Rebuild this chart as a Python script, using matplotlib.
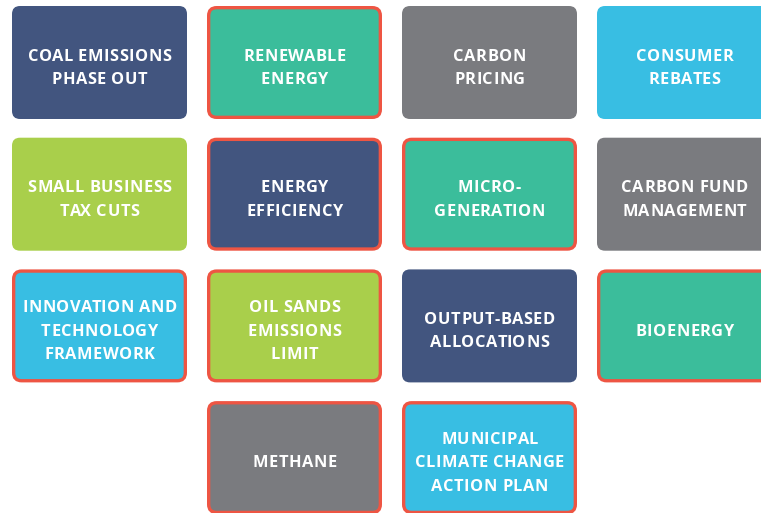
import matplotlib
matplotlib.use("Agg")
import matplotlib.pyplot as plt
from matplotlib.patches import FancyBboxPatch
from matplotlib.font_manager import FontProperties

labels = [
    "COAL EMISSIONS\nPHASE OUT", "RENEWABLE\nENERGY", "CARBON\nPRICING", "CONSUMER\nREBATES",
    "SMALL BUSINESS\nTAX CUTS", "ENERGY\nEFFICIENCY", "MICRO-\nGENERATION", "CARBON FUND\nMANAGEMENT",
    "INNOVATION AND\nTECHNOLOGY\nFRAMEWORK", "OIL SANDS\nEMISSIONS\nLIMIT", "OUTPUT-BASED\nALLOCATIONS", "BIOENERGY",
    "METHANE", "MUNICIPAL\nCLIMATE CHANGE\nACTION PLAN",
]
rows = [0, 0, 0, 0, 1, 1, 1, 1, 2, 2, 2, 2, 3, 3]
cols = [0, 1, 2, 3, 0, 1, 2, 3, 0, 1, 2, 3, 1, 2]
groups = ["navy", "green", "gray", "cyan",
          "lime", "navy", "green", "gray",
          "cyan", "lime", "navy", "green",
          "gray", "cyan"]
highlighted = [False, True, False, False,
               False, True, True, False,
               True, True, False, True,
               True, True]

palette = {"navy": "#42557F", "green": "#3BBD9B", "gray": "#7A7B7F",
           "cyan": "#38BEE3", "lime": "#A9CF4B"}
border_color = "#EE5543"

W, H = 761, 513
fig = plt.figure(figsize=(W / 100, H / 100), dpi=100)
ax = fig.add_axes([0, 0, 1, 1])
ax.set_xlim(0, W)
ax.set_ylim(H, 0)
ax.axis("off")

fp = FontProperties(family="Open Sans", weight="bold", size=11.8)
renderer = fig.canvas.get_renderer()


def tw(s):
    w, h, d = renderer.get_text_width_height_descent(s, fp, ismath=False)
    return w


bar_w = tw("|")
bar2_w = tw("||")


def adv(s):
    return tw("|" + s + "|") - bar2_w


def rel_lsb(c):
    return tw("|" + c) - tw(c) - bar2_w + bar_w


tracking = 0.5
line_gap = 23.4
cap_h = 11.7
text_shift = 3.9


def draw_tracked(line, cx, baseline):
    pens = [adv(line[:i]) + tracking * i for i in range(len(line))]
    lefts = [pens[i] + rel_lsb(ch) for i, ch in enumerate(line)]
    rights = [lefts[i] + tw(ch) for i, ch in enumerate(line)]
    vis = [i for i, ch in enumerate(line) if ch != " "]
    ink_l = min(lefts[i] for i in vis)
    ink_r = max(rights[i] for i in vis)
    offset = cx - (ink_l + ink_r) / 2
    for i in vis:
        ax.text(offset + lefts[i], baseline, line[i], ha="left", va="baseline",
                color="white", fontproperties=fp)


tile_w, tile_h = 175, 113
x_start, y_start = 12, 6
x_step, y_step = 195, 131.7
lw = 2.4
inset = lw * 100 / 72 / 2
pad = 8

for lab, r, c, g, hl in zip(labels, rows, cols, groups, highlighted):
    x0 = x_start + c * x_step
    y0 = y_start + r * y_step
    if hl:
        patch = FancyBboxPatch((x0 + inset + pad, y0 + inset + pad),
                               tile_w - 2 * inset - 2 * pad, tile_h - 2 * inset - 2 * pad,
                               boxstyle=f"round,pad={pad},rounding_size={pad}",
                               facecolor=palette[g], edgecolor=border_color, linewidth=lw)
    else:
        patch = FancyBboxPatch((x0 + pad, y0 + pad), tile_w - 2 * pad, tile_h - 2 * pad,
                               boxstyle=f"round,pad={pad},rounding_size={pad}",
                               facecolor=palette[g], edgecolor="none")
    ax.add_patch(patch)
    lines = lab.split("\n")
    n = len(lines)
    cy = y0 + tile_h / 2 + text_shift
    for i, line in enumerate(lines):
        cap_center = cy + (i - (n - 1) / 2) * line_gap
        draw_tracked(line, x0 + tile_w / 2, cap_center + cap_h / 2)

fig.savefig("out.png", dpi=100)
